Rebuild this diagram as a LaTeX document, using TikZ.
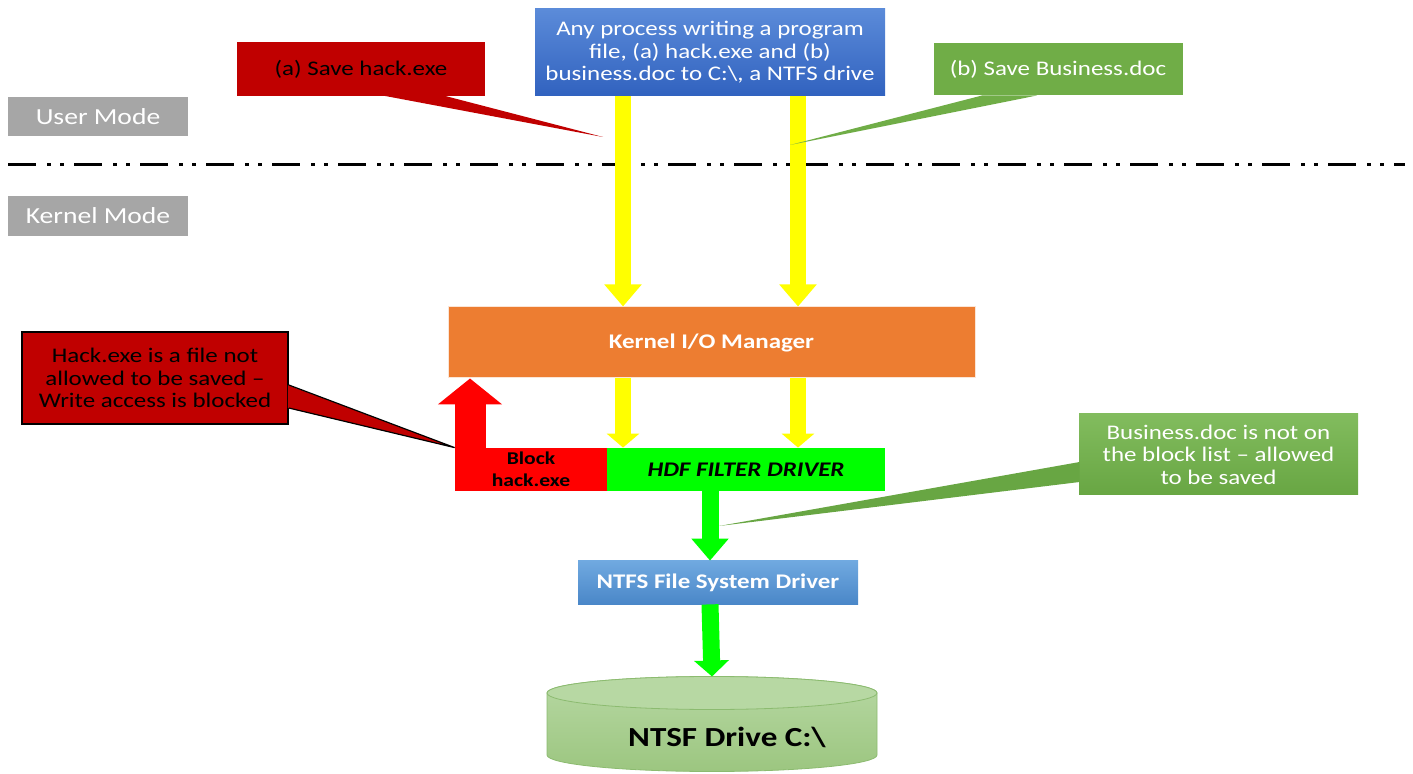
\documentclass[tikz,border=0pt]{standalone}
\usepackage{fontspec}
\setmainfont[FakeStretch=1.2]{Carlito}
\usetikzlibrary{arrows.meta,calc}
\definecolor{cred}{HTML}{C00000}
\definecolor{cgreen}{HTML}{70AD47}
\definecolor{cgray}{HTML}{A6A6A6}
\definecolor{corange}{HTML}{ED7D31}
\definecolor{chdf}{HTML}{00FF00}
\definecolor{cblock}{HTML}{FF0000}
\definecolor{cyel}{HTML}{FFFF00}
\definecolor{bluetop}{HTML}{5B8BD9}
\definecolor{bluebot}{HTML}{3162BF}
\definecolor{ntfstop}{HTML}{70A9E0}
\definecolor{ntfsbot}{HTML}{4A87C8}
\definecolor{drvtop}{HTML}{B7D8A3}
\definecolor{drvbot}{HTML}{9CC680}
\definecolor{drvline}{HTML}{8CBB70}
\definecolor{bctop}{HTML}{82BC5E}
\definecolor{bcbot}{HTML}{68A643}
\begin{document}
\begin{tikzpicture}[x=0.5pt,y=-0.5pt,
  txt/.style={font=\fontsize{10.4}{11.25}\selectfont},
  box/.style={rectangle,inner sep=0pt,align=center,txt},
  modebox/.style={box,fill=cgray,text=white,font=\fontsize{11.5}{13}\selectfont,minimum width=90pt},
  yarrow/.style={draw=cyel,line width=8pt,-{Triangle[width=18pt,length=11pt]},cyel},
  yarrowb/.style={draw=cyel,line width=8pt,-{Triangle[width=16pt,length=7pt]},cyel},
  garrow/.style={draw=chdf,line width=8.5pt,-{Triangle[width=18pt,length=11pt]},chdf},
  garrowb/.style={draw=chdf,line width=8.5pt,-{Triangle[width=17pt,length=8pt]},chdf},
  rarrow/.style={draw=cblock,line width=15.5pt,-{Triangle[width=31.5pt,length=13pt]},cblock},
  sep/.style={line width=1.5pt,dash pattern=on 14pt off 5.5pt on 2pt off 4.5pt on 2pt off 5pt}
]
\useasboundingbox (0,0) rectangle (1413,774);

% separator
\coordinate (sepL) at (8,165);
\coordinate (sepR) at (1405,165);
\draw[sep] (sepL) -- (sepR);

% mode labels
\node[modebox,minimum height=19.5pt] (user) at (98,116.5) {User Mode};
\node[modebox,minimum height=20pt] (kern) at (98,216) {Kernel Mode};

% process box
\node[box,top color=bluetop,bottom color=bluebot,text=white,minimum width=175pt,minimum height=43.5pt] (proc) at (710,52.5)
  {Any process writing a program\\file, (a) hack.exe and (b)\\business.doc to C:\textbackslash, a NTFS drive};

% kernel I/O manager
\node[box,fill=corange,draw=white!80!corange,line width=0.5pt,text=white,font=\fontsize{10.4}{12}\selectfont\bfseries,minimum width=263.5pt,minimum height=35.5pt] (kio) at (711.5,342.5) {Kernel I/O Manager};

% filter driver and block
\node[box,fill=chdf,font=\fontsize{10.4}{12}\selectfont\bfseries\itshape,minimum width=139pt,minimum height=21.5pt] (hdf) at (746,469.5) {HDF FILTER DRIVER};
\node[box,fill=cblock,font=\fontsize{9}{11}\selectfont\bfseries,minimum width=76pt,minimum height=21.5pt,text width=76pt] (blk) at (531,469.5) {Block\\hack.exe};

% NTFS driver
\node[box,top color=ntfstop,bottom color=ntfsbot,text=white,font=\fontsize{10.4}{12}\selectfont\bfseries,minimum width=140pt,minimum height=21.5pt] (ntfs) at (718,582.5) {NTFS File System Driver};

% drive cylinder
\coordinate (drivetop) at (712,676.5);
\shade[top color=drvtop,bottom color=drvbot,draw=drvline,line width=0.4pt]
  (547,693) -- (547,755) arc[start angle=180,end angle=360,x radius=82.5pt,y radius=8.25pt]
  -- (877,693) arc[start angle=0,end angle=180,x radius=82.5pt,y radius=8.25pt] -- cycle;
\fill[drvtop] (712,693) ellipse[x radius=82.5pt,y radius=8.25pt];
\draw[drvline,line width=0.4pt] (712,693) ellipse[x radius=82.5pt,y radius=8.25pt];
\node[box,font=\fontsize{13.8}{16}\selectfont\bfseries] (drive) at (727,737) {NTSF Drive C:\textbackslash};

% arrows
\draw[yarrow] (proc.south -| 623,0) -- (kio.north -| 623,0);
\draw[yarrow] (proc.south -| 798,0) -- (kio.north -| 798,0);
\draw[yarrowb] (kio.south -| 623,0) -- (hdf.north -| 623,0);
\draw[yarrowb] (kio.south -| 798,0) -- (hdf.north -| 798,0);
\draw[rarrow] (blk.north -| 470,0) -- (kio.south -| 470,0);
\draw[garrow] (hdf.south -| 710,0) -- (ntfs.north -| 710,0);
\draw[garrowb] (ntfs.south -| 710,0) -- (drivetop);

% callout (a)
\coordinate (tipa) at (603,137);
\node[box,fill=cred,minimum width=124pt,minimum height=27pt] (cala) at (361,69) {(a) Save hack.exe};
\fill[cred] ($(cala.south)+(21,-1)$) -- (tipa) -- ($(cala.south)+(82,-1)$) -- cycle;

% callout (b)
\coordinate (tipb) at (790,145);
\node[box,fill=cgreen,draw=white,line width=0.5pt,text=white,minimum width=125pt,minimum height=26.5pt] (calb) at (1058,69.5) {(b) Save Business.doc};
\fill[cgreen] ($(calb.south)+(-76,-1)$) -- (tipb) -- ($(calb.south)+(-21,-1)$) -- cycle;

% callout hack.exe blocked
\node[box,fill=cred,draw=black,line width=0.8pt,minimum width=133pt,minimum height=46pt] (hcall) at (155,378)
  {Hack.exe is a file not\\allowed to be saved --\\Write access is blocked};
\fill[cred] ($(hcall.east)+(-1,7)$) -- (blk.north west) -- ($(hcall.east)+(-1,30)$) -- cycle;
\draw[black,line width=0.6pt] ($(hcall.east)+(0,7)$) -- (blk.north west) -- ($(hcall.east)+(0,30)$);

% callout business.doc allowed
\coordinate (tipc) at (719,526);
\node[box,top color=bctop,bottom color=bcbot,text=white,minimum width=139.5pt,minimum height=40.5pt] (bcall) at (1218.5,454.5)
  {Business.doc is not on\\the block list -- allowed\\to be saved};
\fill[bcbot] ($(bcall.west)+(1,7.5)$) -- (tipc) -- ($(bcall.west)+(1,27.5)$) -- cycle;
\end{tikzpicture}
\end{document}
